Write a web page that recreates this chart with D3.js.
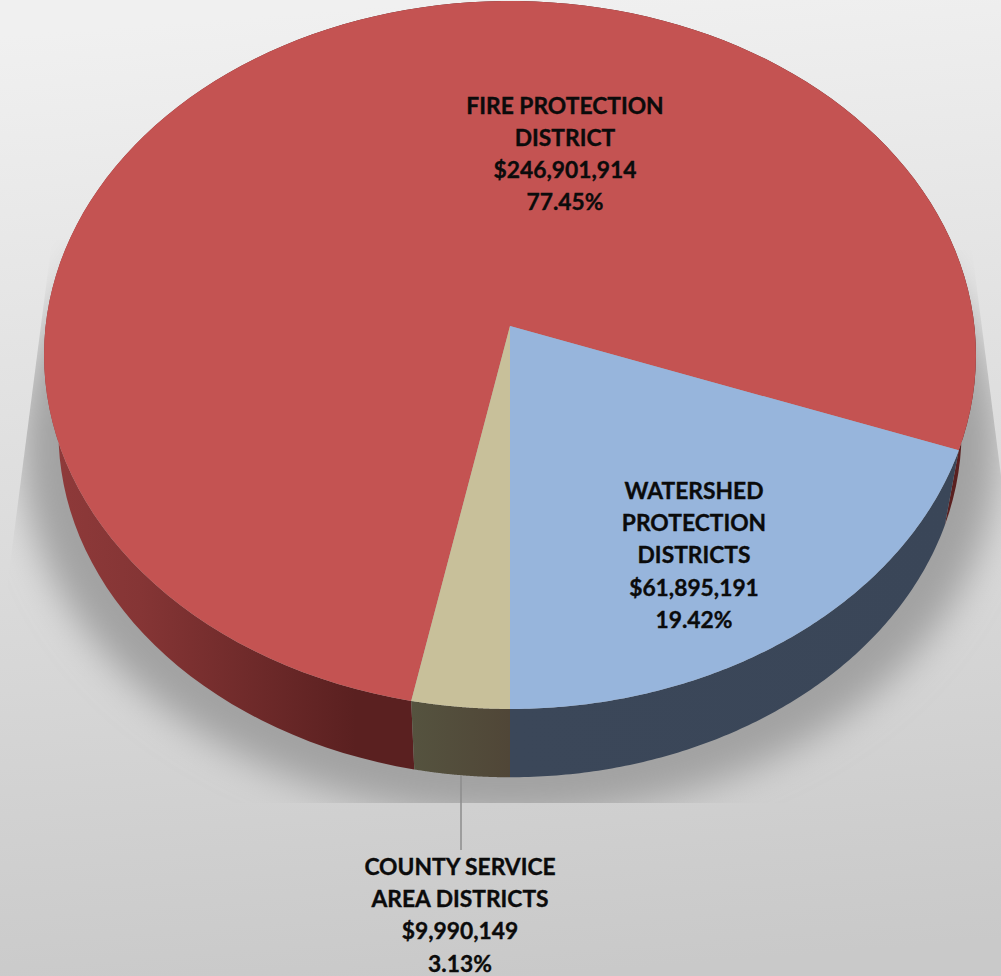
<!DOCTYPE html>
<html>
<head>
<meta charset="utf-8">
<style>
  html, body { margin: 0; padding: 0; background: #d4d4d4; }
  svg { display: block; }
  text { font-family: Lato, "Open Sans", sans-serif; font-weight: 700; font-size: 22.8px; fill: #0b0b0b; stroke: #0b0b0b; stroke-width: 0.35px; text-anchor: middle; }
</style>
<script src="https://cdnjs.cloudflare.com/ajax/libs/d3/7.8.5/d3.min.js"></script>
</head>
<body>
<svg id="chart" width="1001" height="976"></svg>
<script>
// District revenue shares, clockwise from the top slice
const districts = ["FIRE PROTECTION DISTRICT", "WATERSHED PROTECTION DISTRICTS", "COUNTY SERVICE AREA DISTRICTS"];
const amounts = [246901914, 61895191, 9990149];
const nameLines = [
  ["FIRE PROTECTION", "DISTRICT"],
  ["WATERSHED", "PROTECTION", "DISTRICTS"],
  ["COUNTY SERVICE", "AREA DISTRICTS"]
];

const topColors = ["#c45352", "#97b5dc", "#c8c09a"];
const wallStops = [
  [["#8f3a3a", 0], ["#853535", 0.25], ["#5a2020", 0.85]],
  [["#3b4759", 0], ["#3a4658", 1]],
  [["#55533f", 0], ["#504637", 1]]
];

const width = 1001, height = 976;
const svg = d3.select("#chart");
const defs = svg.append("defs");

// Perspective view of a flat disc: near edge looks larger than the far edge
const tilt = 0.0819;
const topDisc = { cx: 510, cy: 326, rx: 464.4, ry: 351.6 };
const baseDisc = { cx: 510, cy: 404, rx: 450, ry: 342.7 };
const project = (disc, angle) => {
  const u = Math.sin(angle), v = -Math.cos(angle), w = 1 - tilt * v;
  return [disc.cx + disc.rx * u / w, disc.cy + disc.ry * v / w];
};
const arcPoints = (disc, a0, a1) =>
  d3.range(0, 129).map(i => project(disc, a0 + (a1 - a0) * i / 128));
const outline = d3.line();

// Start so the last slice begins exactly at the front of the disc
const total = d3.sum(amounts);
const start = Math.PI + amounts[2] / total * 2 * Math.PI;
const slices = d3.pie().sort(null).startAngle(start).endAngle(start + 2 * Math.PI)(amounts);

// Backdrop
const bg = defs.append("linearGradient").attr("id", "bg")
  .attr("x1", 0.46).attr("y1", 0).attr("x2", 0.54).attr("y2", 1);
bg.append("stop").attr("offset", 0).attr("stop-color", "#f0f0f0");
bg.append("stop").attr("offset", 1).attr("stop-color", "#c9c9c9");
svg.append("rect").attr("width", width).attr("height", height).attr("fill", "url(#bg)");

// Soft shadow under the disc, cut off by its floor plane
defs.append("filter").attr("id", "soft")
  .attr("x", "-20%").attr("y", "-20%").attr("width", "140%").attr("height", "140%")
  .append("feGaussianBlur").attr("stdDeviation", 18);
defs.append("clipPath").attr("id", "floor").append("path")
  .attr("d", outline([[52, 240], [8, 580], [8, 803], [1001, 803], [1001, 476], [972, 250]]) + "Z");
svg.append("g").attr("clip-path", "url(#floor)")
  .append("ellipse")
  .attr("cx", 510).attr("cy", 448).attr("rx", 488).attr("ry", 368)
  .attr("fill", "#a2a2a2").attr("filter", "url(#soft)");

// Wall gradients run left to right across the rim
wallStops.forEach((stops, i) => {
  const g = defs.append("linearGradient").attr("id", "wall" + i)
    .attr("gradientUnits", "userSpaceOnUse")
    .attr("x1", i === 0 ? 50 : i === 1 ? 510 : 411).attr("y1", 0)
    .attr("x2", i === 0 ? 410 : i === 1 ? 960 : 510).attr("y2", 0);
  stops.forEach(([c, o]) => g.append("stop").attr("offset", o).attr("stop-color", c));
});

// Side walls first, then the top surface over them
svg.append("g").selectAll("path").data(slices).join("path")
  .attr("d", d => {
    const upper = arcPoints(topDisc, d.startAngle, d.endAngle);
    const lower = arcPoints(baseDisc, d.startAngle, d.endAngle).reverse();
    return outline(upper.concat(lower)) + "Z";
  })
  .attr("fill", (d, i) => `url(#wall${i})`);

svg.append("g").selectAll("path").data(slices).join("path")
  .attr("d", d => {
    const rim = arcPoints(topDisc, d.startAngle, d.endAngle);
    return outline([[topDisc.cx, topDisc.cy]].concat(rim)) + "Z";
  })
  .attr("fill", (d, i) => topColors[i]);

// Leader line for the outside label
svg.append("line")
  .attr("x1", 461).attr("y1", 776).attr("x2", 461).attr("y2", 850)
  .attr("stroke", "#8c8c8c").attr("stroke-width", 1.5);

// Labels: name lines, dollar amount, share of the total
const labelAnchors = [[565, 113.5], [694, 499], [460, 875]];
const money = d3.format(",");
const share = d3.format(".2f");
const lineGap = 32.2;
const labels = svg.append("g").selectAll("text").data(amounts).join("text")
  .attr("aria-label", (d, i) => districts[i]);
labels.each(function (v, i) {
  const lines = nameLines[i].concat(["$" + money(v), share(v / total * 100) + "%"]);
  d3.select(this).selectAll("tspan").data(lines).join("tspan")
    .attr("x", labelAnchors[i][0])
    .attr("y", (t, k) => labelAnchors[i][1] + k * lineGap)
    .text(t => t);
});
</script>
</body>
</html>
